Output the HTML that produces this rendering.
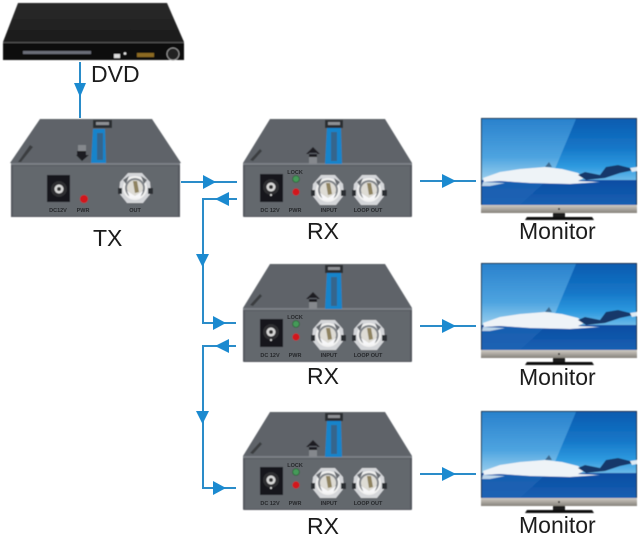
<!DOCTYPE html>
<html><head><meta charset="utf-8"><style>
html,body{margin:0;padding:0;background:#fff}
svg{display:block}
.big{font-family:"Liberation Sans",sans-serif;font-size:23px;fill:#1c1c1c}
.s{font-family:"Liberation Sans",sans-serif;font-size:5.5px;fill:#26282b;text-anchor:middle;font-weight:bold}
</style></head><body>
<svg xmlns="http://www.w3.org/2000/svg" width="640" height="537" viewBox="0 0 640 537">
<defs>
<linearGradient id="sky" x1="0" y1="0" x2="0" y2="1"><stop offset="0" stop-color="#0b5cb0"/><stop offset=".45" stop-color="#1577c8"/><stop offset=".75" stop-color="#2f9be0"/><stop offset="1" stop-color="#79c0ea"/></linearGradient>
<linearGradient id="gloss" x1="0" y1="0" x2="0" y2="1"><stop offset="0" stop-color="#2a82cd"/><stop offset=".6" stop-color="#4ea4e0"/><stop offset="1" stop-color="#a5d5ef"/></linearGradient>
<linearGradient id="sea" x1="0" y1="0" x2="0" y2="1"><stop offset="0" stop-color="#0d4da3"/><stop offset="1" stop-color="#1560b2"/></linearGradient>
<linearGradient id="bez" x1="0" y1="0" x2="0" y2="1"><stop offset="0" stop-color="#d0ccc4"/><stop offset="1" stop-color="#85817a"/></linearGradient>
<linearGradient id="dvdtop" x1="0" y1="0" x2="0" y2="1"><stop offset="0" stop-color="#2c2c2c"/><stop offset="1" stop-color="#1a1a1a"/></linearGradient>
<filter id="b"><feGaussianBlur stdDeviation=".5"/></filter>
<g id="bnc">
<path d="M-15-6-7-15H7L15-6 16 5 8 15H-8L-16 5Z" fill="#d4d6d9"/>
<path d="M-17 0H-13V6H-17ZM13 0H18V6H13Z" fill="#2c2e31"/>
<circle r="12" fill="#f1f1f0"/>
<circle r="10" fill="#7f8388"/>
<circle r="8" fill="#dedcd5"/>
<path d="M-2-7 2-7 4 4 0 5Z" fill="#8f8360"/>
<path d="M-8 3 0 8 8 3 5 10H-5Z" fill="#f6f6f8"/>
<path d="M-12-8-6-12-9-4Z M12-8 6-12 9-4Z" fill="#666a6f"/>
</g>
<g id="rx">
<path d="M270 119H385L412 163H243Z" fill="#5f6369"/>
<rect x="243" y="163" width="169" height="54" rx="1" fill="#55595e"/>
<rect x="243" y="163" width="169" height="2" fill="#7c8086"/>
<rect x="245" y="166" width="165" height="50" fill="#63676d"/>
<path d="M327 127H341L342 164H325Z" fill="#1484cb"/>
<path d="M331 132H337V161H331Z" fill="#35658c"/>
<rect x="325" y="120" width="18" height="8" fill="#2b2d31"/>
<rect x="328" y="122" width="12" height="3" fill="#8d9094"/>
<path d="M313 147 306 154H320Z M309 153H317V157H309Z" fill="#1c1e21"/>
<rect x="309" y="157" width="8" height="7" fill="#85888d"/>
<path d="M250 160 260 149 262 151 253 161Z" fill="#3a3d41"/>
<rect x="260" y="174" width="23" height="28" fill="#17181a"/>
<circle cx="271" cy="187" r="8" fill="#2d2f31"/><circle cx="271" cy="187" r="4.500" fill="#d8d8d8"/><circle cx="271" cy="187" r="2" fill="#333"/><circle cx="271" cy="195" r="1" fill="#e2e2e2"/>
<circle cx="296" cy="179" r="3.400" fill="#449a58" stroke="#2a5f37" stroke-width=".8"/>
<circle cx="296" cy="192" r="3.600" fill="#d3121c"/>
<use href="#bnc" x="328" y="190"/><use href="#bnc" x="369" y="190"/>
</g>
<g id="mon">
<rect x="481" y="118" width="156" height="88" fill="#1a2f45"/>
<rect x="482" y="119" width="154" height="64" fill="url(#sky)"/>
<path d="M482 119H576L549 183H482Z" fill="url(#gloss)"/>
<rect x="482" y="180" width="154" height="25" fill="url(#sea)"/>
<path d="M482 182H545L520 205H482Z" fill="#1e64b4" opacity=".75"/>
<path d="M483 178 500 172 520 169 545 167 562 169 578 173 584 178 578 181 600 182 570 184 530 183 500 181 484 182Z" fill="#eef3f7"/>
<path d="M545 167 549 162 552 167Z" fill="#3f6a8f"/>
<path d="M578 175 585 172 600 175 606 167 618 165 630 168 634 170 620 173 605 178 586 180Z" fill="#18396a"/>
<path d="M630 168 637 167 637 171 632 172Z" fill="#dfeaf2"/>
<path d="M483 182 505 183 490 186 482 186Z" fill="#bcd4e8"/>
<rect x="481" y="205" width="156" height="8" fill="url(#bez)"/>
<circle cx="559" cy="209" r="1" fill="#222"/>
<rect x="553" y="213" width="12" height="4" fill="#1a1a1a"/>
<path d="M527 217H592L594 220H525Z" fill="#0e0e0e"/>
</g>
</defs>

<g filter="url(#b)">
<!-- DVD -->
<path d="M18 3H167L184 42H3Z" fill="url(#dvdtop)"/>
<path d="M3 42H184V60H3Z" fill="#0d0d0d"/>
<rect x="3" y="42" width="181" height="1.200" fill="#555"/>
<rect x="23" y="51" width="68" height="3" fill="#6a6d78"/>
<rect x="114" y="54" width="6" height="4" fill="#ddd"/>
<circle cx="125" cy="53.500" r="1.300" fill="#eee"/>
<rect x="137" y="53" width="17" height="4" fill="#8c6a20"/>
<circle cx="173" cy="54" r="6" fill="#222" stroke="#999" stroke-width="1"/>

<!-- TX -->
<path d="M40 119H152L181 163H10Z" fill="#5f6369"/>
<rect x="11" y="163" width="169" height="54" fill="#55595e"/>
<rect x="11" y="163" width="169" height="2" fill="#7c8086"/>
<rect x="13" y="166" width="165" height="50" fill="#63676d"/>
<path d="M93 129H105L106 163H91Z" fill="#1484cb"/>
<path d="M97 133H103V160H97Z" fill="#35658c"/>
<rect x="93" y="120" width="19" height="8" fill="#2b2d31"/>
<rect x="96" y="122" width="13" height="3" fill="#8d9094"/>
<rect x="78" y="145" width="8" height="6" fill="#85888d"/>
<path d="M77 151H86V155H89L82 161 76 155H77Z" fill="#1c1e21"/>
<path d="M18 162 30 145 33 147 21 162Z" fill="#3a3d41"/>
<rect x="47" y="175" width="23" height="27" fill="#17181a"/>
<circle cx="59" cy="189" r="8" fill="#2d2f31"/><circle cx="59" cy="189" r="4.500" fill="#d8d8d8"/><circle cx="59" cy="189" r="2" fill="#333"/>
<circle cx="84" cy="199" r="4" fill="#d3121c"/>
<use href="#bnc" x="135" y="188"/>

<use href="#rx"/>
<use href="#rx" y="145"/>
<use href="#rx" y="293"/>
<use href="#mon"/>
<use href="#mon" y="145"/>
<use href="#mon" y="293"/>
</g>

<!-- connectors -->
<g fill="none" stroke="#2a8cc9" stroke-width="2">
<path d="M80 62V118"/>
<path d="M181 182H237"/>
<path d="M237 199H203V323H236"/>
<path d="M236 346H203V488H236"/>
<path d="M420 181H476M420 326H476M420 474H476"/>
</g>
<g fill="#1b8ad0">
<path d="M74 83H86L80 97Z"/>
<path d="M203 175V189L216 182Z"/>
<path d="M229 192V206L215 199Z"/>
<path d="M196 254H209L202.500 267Z"/>
<path d="M213 316V330L226 323Z"/>
<path d="M229 339V353L215 346Z"/>
<path d="M196 411H209L202.500 424Z"/>
<path d="M213 481V495L226 488Z"/>
<path d="M442 174V188L456 181Z"/>
<path d="M442 319V333L456 326Z"/>
<path d="M442 467V481L456 474Z"/>
</g>

<!-- labels -->
<text class="big" x="91" y="82">DVD</text>
<text class="big" x="93" y="246">TX</text>
<text class="big" x="307" y="239">RX</text>
<text class="big" x="307" y="384">RX</text>
<text class="big" x="307" y="534">RX</text>
<text class="big" x="519" y="239">Monitor</text>
<text class="big" x="519" y="385">Monitor</text>
<text class="big" x="519" y="533">Monitor</text>

<text class="s" x="58" y="212">DC12V</text><text class="s" x="83" y="212">PWR</text><text class="s" x="135" y="212">OUT</text>
<text class="s" x="295" y="174">LOCK</text><text class="s" x="270" y="212">DC 12V</text><text class="s" x="295" y="212">PWR</text><text class="s" x="329" y="212">INPUT</text><text class="s" x="368" y="212">LOOP OUT</text>
<text class="s" x="295" y="319">LOCK</text><text class="s" x="270" y="357">DC 12V</text><text class="s" x="295" y="357">PWR</text><text class="s" x="329" y="357">INPUT</text><text class="s" x="368" y="357">LOOP OUT</text>
<text class="s" x="295" y="467">LOCK</text><text class="s" x="270" y="505">DC 12V</text><text class="s" x="295" y="505">PWR</text><text class="s" x="329" y="505">INPUT</text><text class="s" x="368" y="505">LOOP OUT</text>
</svg>
</body></html>
